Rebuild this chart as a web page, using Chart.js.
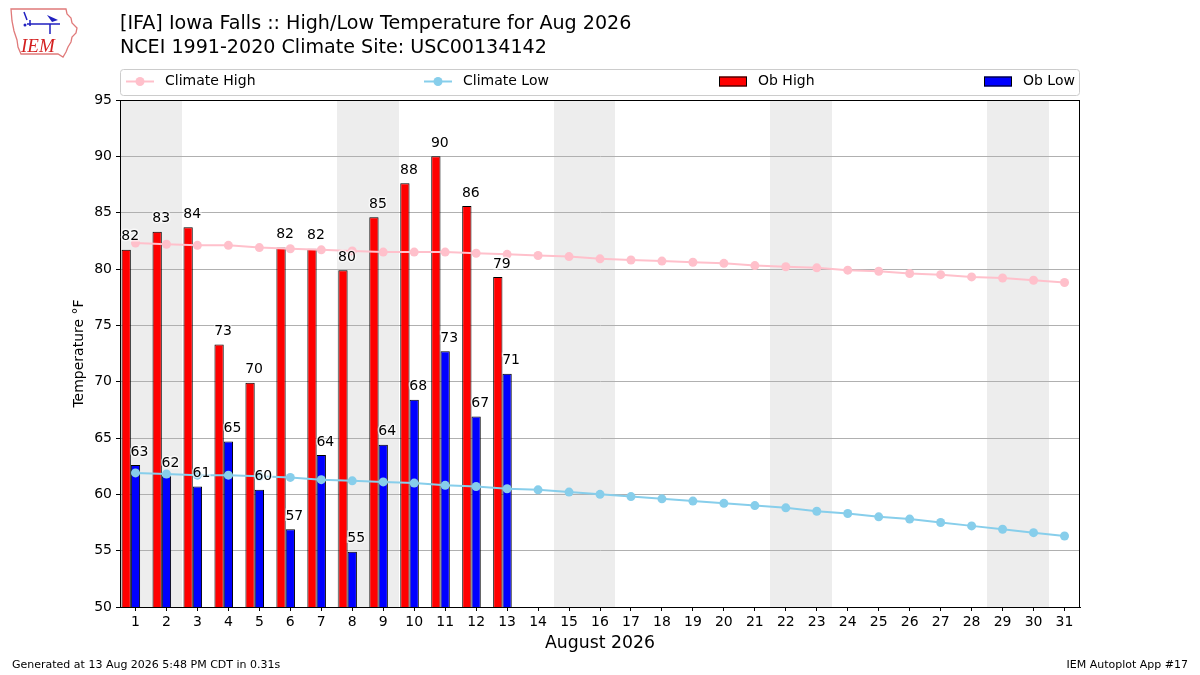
<!DOCTYPE html>
<html>
<head>
<meta charset="utf-8">
<script src="https://cdn.jsdelivr.net/npm/chart.js@4.4.1/dist/chart.umd.min.js"></script>
<style>
  html, body { margin: 0; padding: 0; background: #ffffff; }
  #wrap { width: 1200px; height: 675px; position: relative; }
</style>
</head>
<body>
<div id="wrap"><canvas id="c" width="1200" height="675"></canvas></div>
<script>
// ---- Data ----
const days = [1,2,3,4,5,6,7,8,9,10,11,12,13,14,15,16,17,18,19,20,21,22,23,24,25,26,27,28,29,30,31];
const obHigh = [81.7, 83.3, 83.7, 73.3, 69.9, 81.9, 81.8, 79.9, 84.6, 87.6, 90.0, 85.6, 79.3];
const obLow  = [62.6, 61.6, 60.7, 64.7, 60.4, 56.9, 63.5, 54.9, 64.4, 68.4, 72.7, 66.9, 70.7];
const climateHigh = [82.3, 82.2, 82.1, 82.1, 81.9, 81.8, 81.7, 81.6, 81.5, 81.5, 81.5, 81.4, 81.3,
  81.2, 81.1, 80.9, 80.8, 80.7, 80.6, 80.5, 80.3, 80.2, 80.1, 79.9, 79.8, 79.6, 79.5, 79.3, 79.2, 79.0, 78.8];
const climateLow = [61.9, 61.8, 61.7, 61.7, 61.6, 61.5, 61.3, 61.2, 61.1, 61.0, 60.8, 60.7, 60.5,
  60.4, 60.2, 60.0, 59.8, 59.6, 59.4, 59.2, 59.0, 58.8, 58.5, 58.3, 58.0, 57.8, 57.5, 57.2, 56.9, 56.6, 56.3];
const yTicks = [50, 55, 60, 65, 70, 75, 80, 85, 90, 95];
const titleLines = ["[IFA] Iowa Falls :: High/Low Temperature for Aug 2026", "NCEI 1991-2020 Climate Site: USC00134142"];
const xTitle = "August 2026";
const yTitle = "Temperature \u00B0F";
const footerLeft = "Generated at 13 Aug 2026 5:48 PM CDT in 0.31s";
const footerRight = "IEM Autoplot App #17";
const year = 2026, monthIndex = 7;

const FONT = "DejaVu Sans";
const BAR_SHIFT = 0.15; // pair of bars sits slightly left of the day center

const pointsOf = (vals, shift) => vals.map((v, i) => ({ x: days[i] - shift, y: v }));

const overlayPlugin = {
  id: 'overlay',
  beforeDraw(chart) {
    const ctx = chart.ctx, a = chart.chartArea, xs = chart.scales.x;
    ctx.save();
    ctx.fillStyle = '#ffffff';
    ctx.fillRect(0, 0, chart.width, chart.height);
    // weekend shading (merge consecutive weekend days into one band)
    ctx.fillStyle = '#ededed';
    let runStart = null;
    days.forEach((d, i) => {
      const wd = new Date(year, monthIndex, d).getDay();
      const we = (wd === 0 || wd === 6);
      if (we && runStart === null) runStart = d;
      const last = i === days.length - 1;
      if ((!we || last) && runStart !== null) {
        const endDay = we ? d : d - 1;
        const x0 = Math.round(xs.getPixelForValue(runStart - 0.5));
        const x1 = Math.round(xs.getPixelForValue(endDay + 0.5));
        ctx.fillRect(x0, a.top, x1 - x0, a.bottom - a.top);
        runStart = null;
      }
    });
    ctx.restore();
  },
  afterDraw(chart) {
    const ctx = chart.ctx, a = chart.chartArea;
    ctx.save();
    // frame
    ctx.strokeStyle = '#000';
    ctx.lineWidth = 1;
    ctx.strokeRect(a.left + 0.5, a.top + 0.5, a.right - a.left - 1, a.bottom - a.top);

    // bar value labels
    ctx.fillStyle = '#000';
    ctx.font = '14px "' + FONT + '"';
    ctx.textAlign = 'center';
    ctx.textBaseline = 'middle';
    [2, 3].forEach(di => {
      const meta = chart.getDatasetMeta(di);
      const vals = chart.data.datasets[di].data;
      meta.data.forEach((el, j) => {
        const txt = String(Math.round(vals[j].y));
        ctx.lineWidth = 3;
        ctx.strokeStyle = 'rgba(255,255,255,0.6)';
        ctx.strokeText(txt, el.x + 4, el.y - 13);
        ctx.fillText(txt, el.x + 4, el.y - 13);
      });
    });

    // titles
    ctx.textAlign = 'left';
    ctx.font = '19.1px "' + FONT + '"';
    ctx.fillText(titleLines[0], a.left, 24);
    ctx.fillText(titleLines[1], a.left, 48);

    // axis titles
    ctx.textAlign = 'center';
    ctx.font = '17.3px "' + FONT + '"';
    ctx.fillText(xTitle, (a.left + a.right) / 2, 644);
    ctx.font = '14px "' + FONT + '"';
    ctx.save();
    ctx.translate(79, (a.top + a.bottom) / 2);
    ctx.rotate(-Math.PI / 2);
    ctx.fillText(yTitle, 0, 0);
    ctx.restore();

    // footer
    ctx.font = '11px "' + FONT + '"';
    ctx.textAlign = 'left';
    ctx.fillText(footerLeft, 12, 665);
    ctx.textAlign = 'right';
    ctx.fillText(footerRight, 1188, 665);

    // legend
    const ly = 81.5;
    ctx.strokeStyle = '#cccccc';
    ctx.lineWidth = 1;
    ctx.beginPath();
    if (ctx.roundRect) ctx.roundRect(a.left + 0.5, 69.5, a.right - a.left - 1, 26, 3); else ctx.rect(a.left + 0.5, 69.5, a.right - a.left - 1, 26);
    ctx.stroke();
    const ds = chart.data.datasets;
    const offs = [6, 304, 599, 864];
    ctx.font = '14px "' + FONT + '"';
    ctx.textAlign = 'left';
    ctx.textBaseline = 'middle';
    ds.forEach((d, i) => {
      const x = a.left + offs[i];
      if (d.type === 'line') {
        ctx.strokeStyle = d.borderColor;
        ctx.lineWidth = 2;
        ctx.beginPath(); ctx.moveTo(x, ly); ctx.lineTo(x + 28, ly); ctx.stroke();
        ctx.fillStyle = d.borderColor;
        ctx.beginPath(); ctx.arc(x + 14, ly, 4.5, 0, Math.PI * 2); ctx.fill();
      } else {
        ctx.fillStyle = d.backgroundColor;
        ctx.fillRect(x, ly - 5, 28, 10);
        ctx.strokeStyle = '#000'; ctx.lineWidth = 1;
        ctx.strokeRect(x + 0.5, ly - 4.5, 27, 9);
      }
      ctx.fillStyle = '#000';
      ctx.fillText(d.label, x + 39, ly);
    });

    // IEM logo (approximation)
    ctx.strokeStyle = '#e07a7a';
    ctx.lineWidth = 1.3;
    ctx.beginPath();
    const outline = [[11,9],[66,9],[67,14],[71,18],[72,23],[77,28],[76,33],[72,37],[71,42],[68,47],[66,52],[63,57],[58,54],[21,54],[18,47],[17,40],[14,31],[12,21]];
    outline.forEach((p, k) => k ? ctx.lineTo(p[0], p[1]) : ctx.moveTo(p[0], p[1]));
    ctx.closePath();
    ctx.stroke();
    ctx.strokeStyle = '#2020c0';
    ctx.fillStyle = '#2020c0';
    ctx.lineWidth = 1.5;
    ctx.beginPath();
    ctx.moveTo(24, 12); ctx.lineTo(27, 20);
    ctx.moveTo(27, 24); ctx.lineTo(60, 24);
    ctx.moveTo(50, 24); ctx.lineTo(50, 34);
    ctx.moveTo(30, 20); ctx.lineTo(30, 26);
    ctx.stroke();
    ctx.beginPath(); ctx.moveTo(47, 15); ctx.lineTo(58, 20); ctx.lineTo(52, 22); ctx.closePath(); ctx.fill();
    ctx.beginPath(); ctx.arc(25, 25, 1.5, 0, Math.PI*2); ctx.fill();
    ctx.fillStyle = '#d42020';
    ctx.font = 'italic 19px "Liberation Serif"';
    ctx.textAlign = 'left';
    ctx.textBaseline = 'alphabetic';
    ctx.fillText('IEM', 21, 52);
    ctx.restore();
  }
};

const chart = new Chart(document.getElementById('c'), {
  type: 'bar',
  data: {
    datasets: [
      { type: 'line', label: 'Climate High', data: pointsOf(climateHigh, 0),
        borderColor: '#ffc0cb', backgroundColor: '#ffc0cb', pointBackgroundColor: '#ffc0cb',
        pointBorderWidth: 0, pointRadius: 4.5, borderWidth: 2, order: 0 },
      { type: 'line', label: 'Climate Low', data: pointsOf(climateLow, 0),
        borderColor: '#87ceeb', backgroundColor: '#87ceeb', pointBackgroundColor: '#87ceeb',
        pointBorderWidth: 0, pointRadius: 4.5, borderWidth: 2, order: 0 },
      { type: 'bar', label: 'Ob High', data: pointsOf(obHigh, BAR_SHIFT),
        backgroundColor: '#ff0000', borderColor: '#000000', borderWidth: 1,
        categoryPercentage: 0.6, barPercentage: 1, order: 1 },
      { type: 'bar', label: 'Ob Low', data: pointsOf(obLow, BAR_SHIFT),
        backgroundColor: '#0000ff', borderColor: '#000000', borderWidth: 1,
        categoryPercentage: 0.6, barPercentage: 1, order: 1 }
    ]
  },
  options: {
    responsive: false,
    animation: false,
    devicePixelRatio: 1,
    layout: { padding: { top: 100, right: 120, left: 0, bottom: 0 } },
    plugins: { legend: { display: false }, tooltip: { enabled: false }, title: { display: false } },
    scales: {
      x: {
        type: 'linear', min: 0.5, max: 31.5, offset: false,
        afterFit(s) { s.height = 68; },
        afterBuildTicks(s) { s.ticks = days.map(v => ({ value: v })); },
        grid: { offset: false, drawOnChartArea: false, drawTicks: true, tickLength: 4, tickColor: '#000' },
        border: { display: true, color: '#000' },
        ticks: { color: '#000', padding: 3, maxRotation: 0, autoSkip: false,
          font: { family: FONT, size: 14 }, callback: v => String(v) }
      },
      y: {
        type: 'linear', min: yTicks[0], max: yTicks[yTicks.length - 1],
        afterFit(s) { s.width = 120; },
        afterBuildTicks(s) { s.ticks = yTicks.map(v => ({ value: v })); },
        grid: { color: '#b0b0b0', lineWidth: 1, tickLength: 4, tickColor: '#000' },
        border: { display: true, color: '#000' },
        ticks: { color: '#000', padding: 4, font: { family: FONT, size: 14 } }
      }
    }
  },
  plugins: [overlayPlugin]
});
</script>
</body>
</html>
